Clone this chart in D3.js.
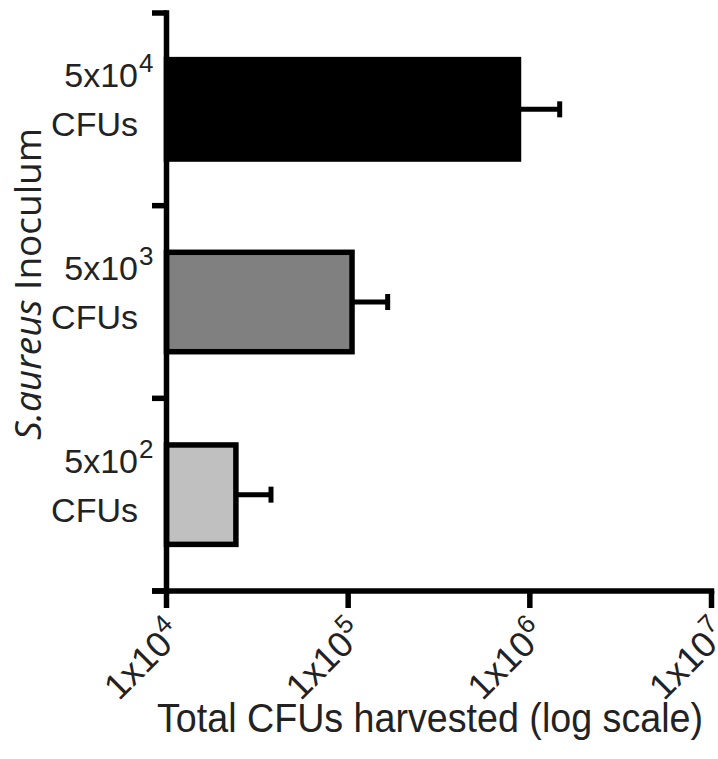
<!DOCTYPE html>
<html>
<head>
<meta charset="utf-8">
<script src="https://cdn.jsdelivr.net/npm/d3@7"></script>
<style>
  body { margin: 0; background: #fff; }
  svg { display: block; }
</style>
</head>
<body>
<div id="chart"></div>
<script>
// inoculum groups, top to bottom
var groups = ["5x10^4", "5x10^3", "5x10^2"];
var groupBase = ["5x10", "5x10", "5x10"];
var groupExp = ["4", "3", "2"];
// mean total CFUs harvested and upper error (mean + sd)
var means = [8.66e5, 1.05e5, 2.41e4];
var upper = [1.46e6, 1.65e5, 3.76e4];
var fills = ["#000000", "#808080", "#c0c0c0"];
// x tick values
var xTicks = [1e4, 1e5, 1e6, 1e7];
var xTickExp = ["4", "5", "6", "7"];

var outerWidth = 718,
    outerHeight = 759;

var svg = d3.select("#chart")
    .append("svg")
    .attr("width", outerWidth)
    .attr("height", outerHeight);

// scales
var x = d3.scaleLog()
    .domain([1e4, 1e7])
    .range([166.5, 711.5]);

var y = d3.scaleBand()
    .domain(groups)
    .range([13, 591])
    .paddingInner(0.484)
    .paddingOuter(0.242);

var axisColor = "#000";

// bars
svg.selectAll(".bar")
    .data(groups)
    .enter().append("rect")
    .attr("class", "bar")
    .attr("x", x(1e4))
    .attr("y", function(d) { return y(d); })
    .attr("width", function(d, i) { return x(means[i]) - x(1e4); })
    .attr("height", y.bandwidth())
    .style("fill", function(d, i) { return fills[i]; })
    .style("stroke", "#000")
    .style("stroke-width", 5.5);

// error bars
var err = svg.selectAll(".err")
    .data(groups)
    .enter().append("g")
    .attr("class", "err");

err.append("line")
    .attr("x1", function(d, i) { return x(means[i]); })
    .attr("x2", function(d, i) { return x(upper[i]); })
    .attr("y1", function(d) { return y(d) + y.bandwidth() / 2; })
    .attr("y2", function(d) { return y(d) + y.bandwidth() / 2; })
    .style("stroke", "#000")
    .style("stroke-width", 5);

err.append("line")
    .attr("x1", function(d, i) { return x(upper[i]); })
    .attr("x2", function(d, i) { return x(upper[i]); })
    .attr("y1", function(d) { return y(d) + y.bandwidth() / 2 - 8; })
    .attr("y2", function(d) { return y(d) + y.bandwidth() / 2 + 8; })
    .style("stroke", "#000")
    .style("stroke-width", 5);

// y axis line with ticks on group boundaries
var yr = y.range();
var boundaries = d3.range(groups.length + 1).map(function(i) {
    return yr[0] + i * y.step();
});

svg.append("line")
    .attr("x1", x(1e4)).attr("x2", x(1e4))
    .attr("y1", yr[0] - 2.75).attr("y2", yr[1] + 2.75)
    .style("stroke", axisColor)
    .style("stroke-width", 5.5);

svg.selectAll(".ytick")
    .data(boundaries)
    .enter().append("line")
    .attr("class", "ytick")
    .attr("x1", 152).attr("x2", x(1e4))
    .attr("y1", function(d) { return d; })
    .attr("y2", function(d) { return d; })
    .style("stroke", axisColor)
    .style("stroke-width", 5.5);

// x axis
var xAxisY = yr[1];
svg.append("line")
    .attr("x1", 152).attr("x2", x(1e7) + 2.75)
    .attr("y1", xAxisY).attr("y2", xAxisY)
    .style("stroke", axisColor)
    .style("stroke-width", 5.5);

svg.selectAll(".xtick")
    .data(xTicks)
    .enter().append("line")
    .attr("class", "xtick")
    .attr("x1", function(d) { return x(d); })
    .attr("x2", function(d) { return x(d); })
    .attr("y1", xAxisY)
    .attr("y2", xAxisY + 17)
    .style("stroke", axisColor)
    .style("stroke-width", 5.5);

// rotated x tick labels
var xl = svg.selectAll(".xlabel")
    .data(xTicks)
    .enter().append("text")
    .attr("class", "xlabel")
    .attr("transform", function(d) {
        return "translate(" + (x(d) + 18) + "," + (xAxisY + 45) + ") rotate(-45)";
    })
    .style("text-anchor", "end")
    .style("font-family", "'Liberation Sans', Arial, sans-serif")
    .style("font-size", "36px")
    .style("fill", "#222");

xl.append("tspan").text("1x10");
xl.append("tspan")
    .attr("dy", -15)
    .style("font-size", "26px")
    .text(function(d, i) { return xTickExp[i]; });

// group labels
var gl = svg.selectAll(".glabel")
    .data(groups)
    .enter().append("g")
    .attr("class", "glabel")
    .attr("transform", function(d) {
        return "translate(138," + (y(d) + y.bandwidth() / 2) + ")";
    })
    .style("font-family", "'Liberation Sans', Arial, sans-serif")
    .style("fill", "#222");

gl.append("text")
    .attr("y", -22)
    .style("text-anchor", "end")
    .style("font-size", "34px")
    .text(function(d, i) { return groupBase[i]; });

gl.append("text")
    .attr("x", 1)
    .attr("y", -37)
    .style("font-size", "26px")
    .text(function(d, i) { return groupExp[i]; });

gl.append("text")
    .attr("y", 27)
    .style("text-anchor", "end")
    .style("font-size", "34px")
    .text("CFUs");

// axis titles
svg.append("text")
    .attr("x", 430)
    .attr("y", 732)
    .attr("textLength", 546)
    .attr("lengthAdjust", "spacingAndGlyphs")
    .style("text-anchor", "middle")
    .style("font-family", "'Liberation Sans', Arial, sans-serif")
    .style("font-size", "41px")
    .style("fill", "#222")
    .text("Total CFUs harvested (log scale)");

var yt = svg.append("text")
    .attr("transform", "translate(41,284) rotate(-90)")
    .style("text-anchor", "middle")
    .style("font-family", "'Open Sans', sans-serif")
    .style("font-size", "37px")
    .style("fill", "#222");

yt.append("tspan").style("font-style", "italic").text("S.");
yt.append("tspan").style("font-style", "italic").text("aureus");
yt.append("tspan").text(" Inoculum");
</script>
</body>
</html>
